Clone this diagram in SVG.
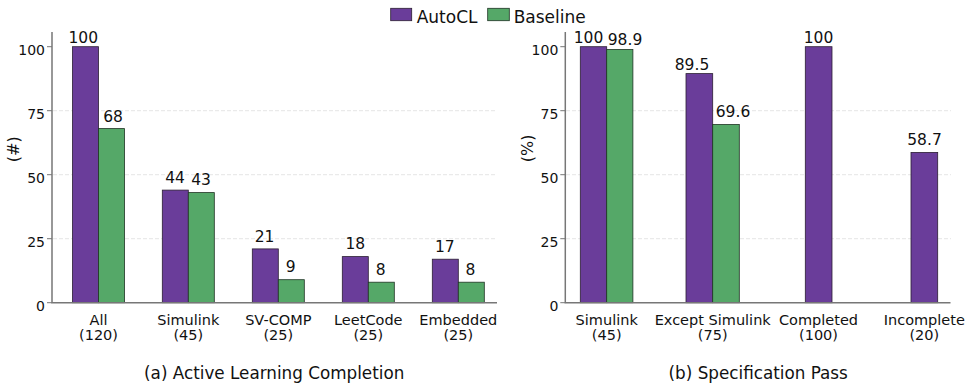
<svg xmlns="http://www.w3.org/2000/svg" width="972" height="387" viewBox="0 0 972 387">
<style>
text{font-family:"DejaVu Sans","Liberation Sans",sans-serif;fill:#111}
.a{fill:#6A3D9A;stroke:#2b1f33;stroke-width:0.8}
.b{fill:#55A868;stroke:#1f3324;stroke-width:0.8}
.grid{stroke:#dddddd;stroke-width:0.8;stroke-dasharray:4,2}
.ax{stroke:#777;stroke-width:1.5;fill:none}
.tk{stroke:#777;stroke-width:1}
.tl{font-size:14px;text-anchor:end}
.v{font-size:15.5px;text-anchor:middle}
.c{font-size:14.5px;text-anchor:middle}
.t{font-size:16.8px;text-anchor:middle}
.lg{font-size:17px}
.yl{font-size:16px;text-anchor:middle}
</style>
<rect width="972" height="387" fill="#fff"/>
<g id="legend">
<rect x="390.7" y="8.3" width="21" height="12.4" class="a"/>
<text x="416.7" y="23.3" class="lg">AutoCL</text>
<rect x="487.7" y="8.3" width="21.6" height="12.4" class="b"/>
<text x="513.7" y="23.3" class="lg">Baseline</text>
</g>
<g id="panel-a">
<g id="grid-a">
<line x1="53" y1="110.7" x2="497" y2="110.7" class="grid"/>
<line x1="53" y1="174.7" x2="497" y2="174.7" class="grid"/>
<line x1="53" y1="238.7" x2="497" y2="238.7" class="grid"/>
</g>
<g id="bars-a">
<rect x="72.5" y="46.7" width="26" height="256" class="a"/>
<rect x="98.5" y="128.6" width="26" height="174.1" class="b"/>
<rect x="162.3" y="190.1" width="26" height="112.6" class="a"/>
<rect x="188.3" y="192.6" width="26" height="110.1" class="b"/>
<rect x="252.3" y="248.9" width="26" height="53.8" class="a"/>
<rect x="278.3" y="279.7" width="26" height="23" class="b"/>
<rect x="342.3" y="256.6" width="26" height="46.1" class="a"/>
<rect x="368.3" y="282.2" width="26" height="20.5" class="b"/>
<rect x="432.3" y="259.2" width="26" height="43.5" class="a"/>
<rect x="458.3" y="282.2" width="26" height="20.5" class="b"/>
</g>
<g id="axes-a">
<polyline points="52,32 52,302.7 497,302.7" class="ax"/>
<line x1="47" y1="46.7" x2="52" y2="46.7" class="tk"/>
<line x1="47" y1="110.7" x2="52" y2="110.7" class="tk"/>
<line x1="47" y1="174.7" x2="52" y2="174.7" class="tk"/>
<line x1="47" y1="238.7" x2="52" y2="238.7" class="tk"/>
<line x1="47" y1="302.7" x2="52" y2="302.7" class="tk"/>
<text x="45" y="55.2" class="tl">100</text>
<text x="45" y="119.2" class="tl">75</text>
<text x="45" y="183.2" class="tl">50</text>
<text x="45" y="247.2" class="tl">25</text>
<text x="45" y="311.2" class="tl">0</text>
<text transform="translate(19,149.3) rotate(-90)" class="yl">(#)</text>
</g>
<g id="values-a">
<text x="83.3" y="42.7" class="v">100</text>
<text x="113" y="121.6" class="v">68</text>
<text x="175" y="183.3" class="v">44</text>
<text x="201" y="185" class="v">43</text>
<text x="264.5" y="241.7" class="v">21</text>
<text x="290.8" y="271.7" class="v">9</text>
<text x="355.3" y="249" class="v">18</text>
<text x="380.8" y="275" class="v">8</text>
<text x="444.8" y="251.7" class="v">17</text>
<text x="470.5" y="275" class="v">8</text>
</g>
<g id="cats-a">
<text x="98.5" y="324.5" class="c">All</text><text x="98.5" y="340" class="c">(120)</text>
<text x="188.3" y="324.5" class="c">Simulink</text><text x="188.3" y="340" class="c">(45)</text>
<text x="278.3" y="324.5" class="c">SV-COMP</text><text x="278.3" y="340" class="c">(25)</text>
<text x="368.3" y="324.5" class="c">LeetCode</text><text x="368.3" y="340" class="c">(25)</text>
<text x="458.3" y="324.5" class="c">Embedded</text><text x="458.3" y="340" class="c">(25)</text>
</g>
<text x="274.2" y="379" class="t">(a) Active Learning Completion</text>
</g>
<g id="panel-b">
<g id="grid-b">
<line x1="566" y1="110.7" x2="951" y2="110.7" class="grid"/>
<line x1="566" y1="174.7" x2="951" y2="174.7" class="grid"/>
<line x1="566" y1="238.7" x2="951" y2="238.7" class="grid"/>
</g>
<g id="bars-b">
<rect x="580.3" y="46.7" width="26.4" height="256" class="a"/>
<rect x="606.7" y="49.5" width="26.2" height="253.2" class="b"/>
<rect x="686" y="73.6" width="26.7" height="229.1" class="a"/>
<rect x="712.7" y="124.5" width="26.6" height="178.2" class="b"/>
<rect x="805.3" y="46.7" width="26.7" height="256" class="a"/>
<rect x="911" y="152.4" width="26.7" height="150.3" class="a"/>
</g>
<g id="axes-b">
<polyline points="565.3,32 565.3,302.7 950.5,302.7" class="ax"/>
<line x1="560.3" y1="46.7" x2="565.3" y2="46.7" class="tk"/>
<line x1="560.3" y1="110.7" x2="565.3" y2="110.7" class="tk"/>
<line x1="560.3" y1="174.7" x2="565.3" y2="174.7" class="tk"/>
<line x1="560.3" y1="238.7" x2="565.3" y2="238.7" class="tk"/>
<line x1="560.3" y1="302.7" x2="565.3" y2="302.7" class="tk"/>
<text x="558.3" y="55.2" class="tl">100</text>
<text x="558.3" y="119.2" class="tl">75</text>
<text x="558.3" y="183.2" class="tl">50</text>
<text x="558.3" y="247.2" class="tl">25</text>
<text x="558.3" y="311.2" class="tl">0</text>
<text transform="translate(532.5,148.3) rotate(-90)" class="yl">(%)</text>
</g>
<g id="values-b">
<text x="588.5" y="42.7" class="v">100</text>
<text x="625" y="44.5" class="v">98.9</text>
<text x="692" y="70" class="v">89.5</text>
<text x="733" y="116.6" class="v">69.6</text>
<text x="818.5" y="42.7" class="v">100</text>
<text x="924.5" y="145" class="v">58.7</text>
</g>
<g id="cats-b">
<text x="606.7" y="324.5" class="c">Simulink</text><text x="606.7" y="340" class="c">(45)</text>
<text x="712.7" y="324.5" class="c">Except Simulink</text><text x="712.7" y="340" class="c">(75)</text>
<text x="818.5" y="324.5" class="c">Completed</text><text x="818.5" y="340" class="c">(100)</text>
<text x="924.3" y="324.5" class="c">Incomplete</text><text x="924.3" y="340" class="c">(20)</text>
</g>
<text x="758.2" y="379" class="t">(b) Specification Pass</text>
</g>
</svg>
